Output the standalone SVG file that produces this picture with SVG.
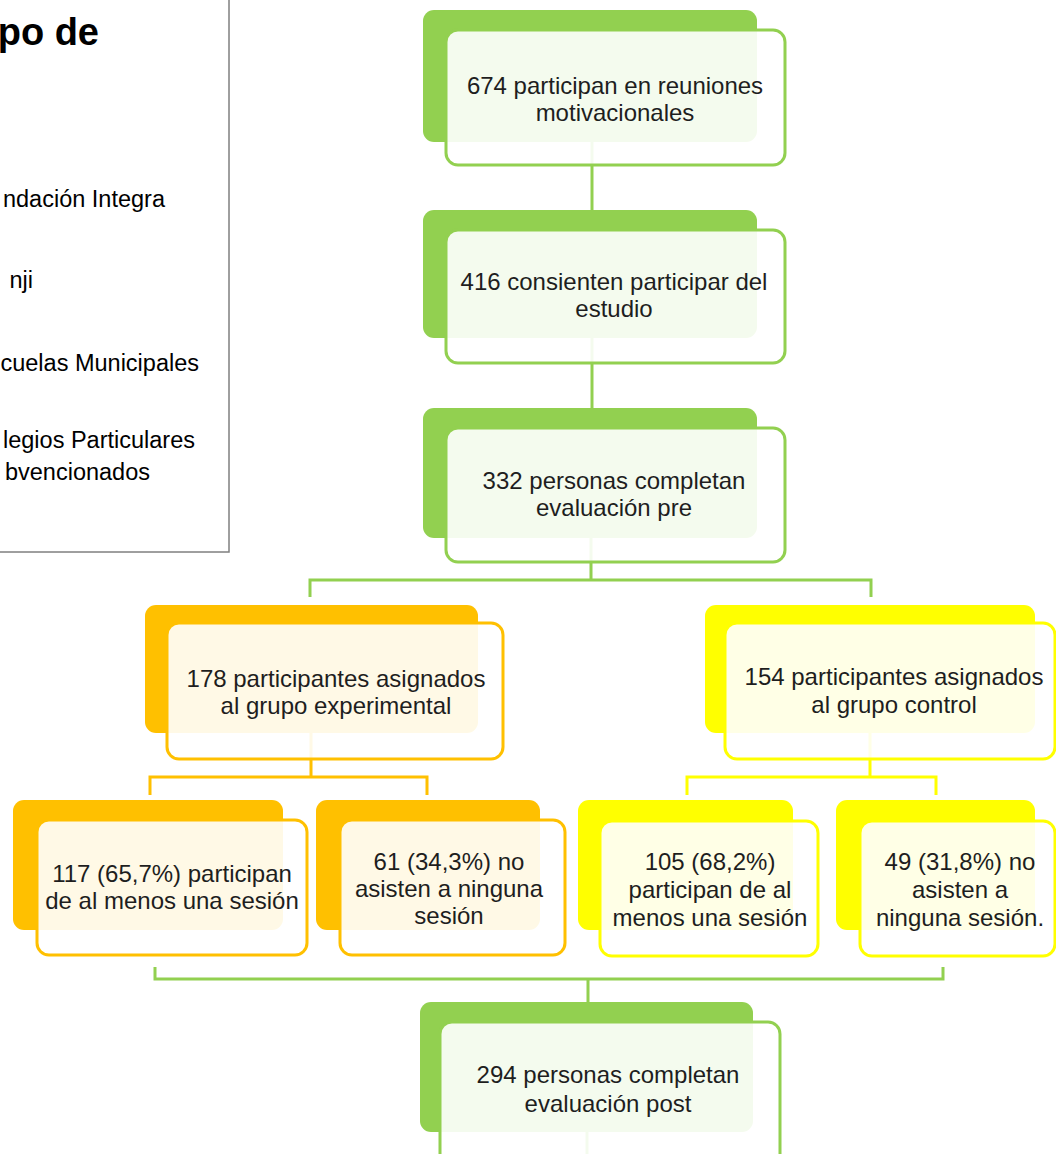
<svg xmlns="http://www.w3.org/2000/svg" width="1056" height="1154" viewBox="0 0 1056 1154">
<style>
.t{font-family:"Liberation Sans",Arial,sans-serif;font-size:24px;fill:#1e1e1e;text-anchor:middle}
.lg{font-family:"Liberation Sans",Arial,sans-serif;font-size:23.5px;fill:#000;text-anchor:end}
.bg{fill:#92D050}.fg{fill:#fff;fill-opacity:0.9;stroke:#92D050;stroke-width:3}
.bo{fill:#FFC000}.fo{fill:#fff;fill-opacity:0.9;stroke:#FFC000;stroke-width:3}
.by{fill:#FFFF00}.fy{fill:#fff;fill-opacity:0.9;stroke:#FFFF00;stroke-width:3}
.cg{fill:none;stroke:#92D050;stroke-width:3}
.co{fill:none;stroke:#FFC000;stroke-width:3}
.cy{fill:none;stroke:#FFFF00;stroke-width:3}
</style>
<rect width="1056" height="1154" fill="#fff"/>
<g id="legend">
<rect x="-5" y="-5" width="234" height="557" fill="#fff" stroke="#7f7f7f" stroke-width="1.5"/>
<text x="99" y="45" font-family="Liberation Sans,Arial,sans-serif" font-size="38" font-weight="bold" text-anchor="end" fill="#000">po de</text>
<text class="lg" x="165" y="207">ndación Integra</text>
<text class="lg" x="33" y="288">nji</text>
<text class="lg" x="199" y="371">cuelas Municipales</text>
<text class="lg" x="195" y="448">legios Particulares</text>
<text class="lg" x="150" y="480">bvencionados</text>
</g>
<g id="connectors">
<path class="cg" d="M592 142V210"/>
<path class="cg" d="M592 338V408"/>
<path class="cg" d="M591 538V580M310 597V580H871V597"/>
<path class="co" d="M311 733V777M150 795V777H427V795"/>
<path class="cy" d="M870 733V777M687 795V777H936V795"/>
<path class="cg" d="M155 967V979H943V967M588 979V1002"/>
<path class="cg" d="M587 1132V1160"/>
</g>
<g id="n674">
<rect class="bg" x="423" y="10" width="334" height="132" rx="11"/>
<rect class="fg" x="446" y="30" width="339" height="135" rx="12"/>
<text class="t" x="615" y="94">674 participan en reuniones</text>
<text class="t" x="615" y="121">motivacionales</text>
</g>
<g id="n416">
<rect class="bg" x="423" y="210" width="334" height="128" rx="11"/>
<rect class="fg" x="446" y="230" width="339" height="133" rx="12"/>
<text class="t" x="614" y="290">416 consienten participar del</text>
<text class="t" x="614" y="317">estudio</text>
</g>
<g id="n332">
<rect class="bg" x="423" y="408" width="334" height="130" rx="11"/>
<rect class="fg" x="446" y="428" width="339" height="134" rx="12"/>
<text class="t" x="614" y="489">332 personas completan</text>
<text class="t" x="614" y="516">evaluación pre</text>
</g>
<g id="n178">
<rect class="bo" x="145" y="605" width="333" height="128" rx="11"/>
<rect class="fo" x="167" y="623" width="336" height="136" rx="12"/>
<text class="t" x="336" y="687">178 participantes asignados</text>
<text class="t" x="336" y="714">al grupo experimental</text>
</g>
<g id="n154">
<rect class="by" x="705" y="605" width="330" height="128" rx="11"/>
<rect class="fy" x="725" y="623" width="330" height="136" rx="12"/>
<text class="t" x="894" y="685">154 participantes asignados</text>
<text class="t" x="894" y="713">al grupo control</text>
</g>
<g id="n117">
<rect class="bo" x="13" y="800" width="270" height="130" rx="11"/>
<rect class="fo" x="37" y="820" width="270" height="135" rx="12"/>
<text class="t" x="172" y="882">117 (65,7%) participan</text>
<text class="t" x="172" y="909">de al menos una sesión</text>
</g>
<g id="n61">
<rect class="bo" x="316" y="800" width="224" height="130" rx="11"/>
<rect class="fo" x="340" y="820" width="225" height="135" rx="12"/>
<text class="t" x="449" y="870">61 (34,3%) no</text>
<text class="t" x="449" y="897">asisten a ninguna</text>
<text class="t" x="449" y="924">sesión</text>
</g>
<g id="n105">
<rect class="by" x="578" y="800" width="215" height="130" rx="11"/>
<rect class="fy" x="600" y="821" width="218" height="135" rx="12"/>
<text class="t" x="710" y="870">105 (68,2%)</text>
<text class="t" x="710" y="898">participan de al</text>
<text class="t" x="710" y="926">menos una sesión</text>
</g>
<g id="n49">
<rect class="by" x="836" y="800" width="199" height="130" rx="11"/>
<rect class="fy" x="860" y="821" width="195" height="135" rx="12"/>
<text class="t" x="960" y="870">49 (31,8%) no</text>
<text class="t" x="960" y="898">asisten a</text>
<text class="t" x="960" y="926">ninguna sesión.</text>
</g>
<g id="n294">
<rect class="bg" x="420" y="1002" width="333" height="130" rx="11"/>
<rect class="fg" x="440" y="1022" width="340" height="150" rx="12"/>
<text class="t" x="608" y="1083">294 personas completan</text>
<text class="t" x="608" y="1112">evaluación post</text>
</g>
</svg>
